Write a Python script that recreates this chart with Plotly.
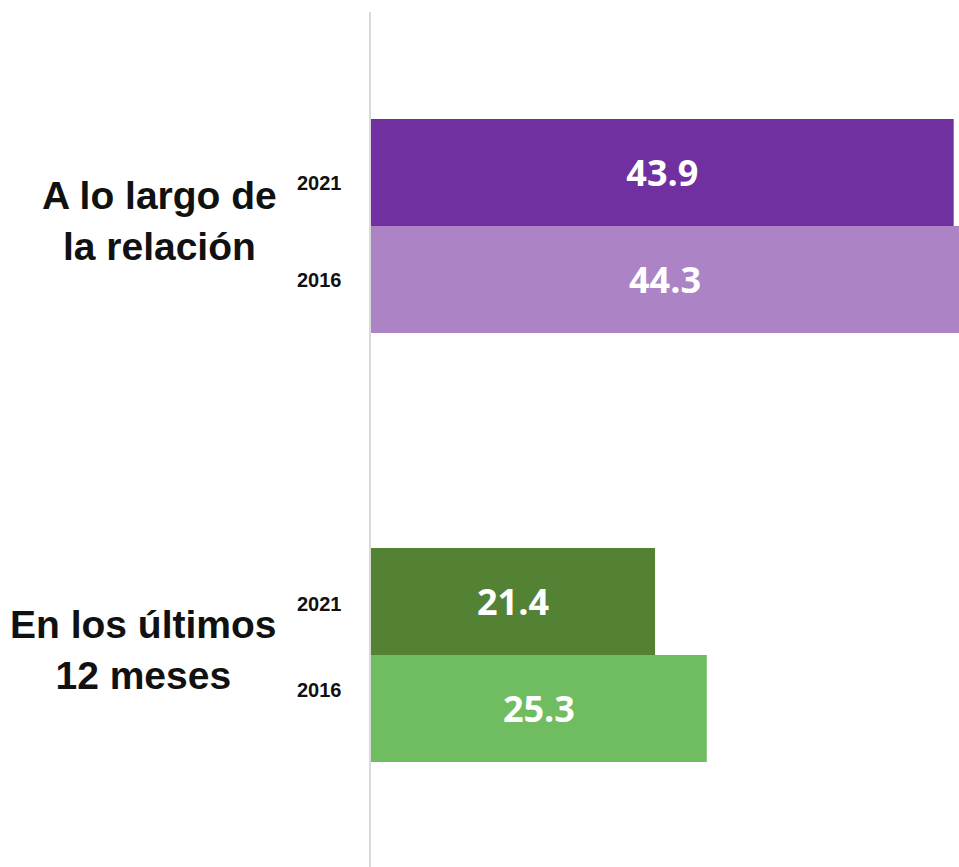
import plotly.graph_objects as go

categories = ["A lo largo de<br>la relación", "En los últimos<br>12 meses"]
years = ["2021", "2016"]
values_2021 = [43.9, 21.4]
values_2016 = [44.3, 25.3]
colors_2021 = ["#7030A0", "#548235"]
colors_2016 = ["#AC84C6", "#70BC60"]

idx = list(range(len(categories)))

fig = go.Figure()
fig.add_trace(go.Bar(
    y=idx, x=values_2021, orientation="h", name=years[0],
    marker=dict(color=colors_2021, line=dict(width=0)),
    text=[f"{v:.1f}" for v in values_2021], textposition="inside",
    insidetextanchor="middle", constraintext="none",
    textfont=dict(family="Open Sans", size=36, color="white", weight="bold"),
))
fig.add_trace(go.Bar(
    y=idx, x=values_2016, orientation="h", name=years[1],
    marker=dict(color=colors_2016, line=dict(width=0)),
    text=[f"{v:.1f}" for v in values_2016], textposition="inside",
    insidetextanchor="middle", constraintext="none",
    textfont=dict(family="Open Sans", size=36, color="white", weight="bold"),
))

annotations = []
for i, cat in enumerate(categories):
    annotations.append(dict(
        x=0, y=i, xref="x", yref="y", text=f"<b>{cat}</b>", showarrow=False,
        xanchor="right", yanchor="middle", align="center", xshift=-92, yshift=5,
        font=dict(family="Liberation Sans", size=39, color="#111111"),
    ))
year_shifts = [(43, -54), (51, -35)]
for i in idx:
    for j, yr in enumerate(years):
        annotations.append(dict(
            x=0, y=i, xref="x", yref="y", text=f"<b>{yr}</b>", showarrow=False,
            xanchor="right", yanchor="middle", xshift=-27,
            yshift=year_shifts[i][j],
            font=dict(family="Liberation Sans", size=20, color="#111111"),
        ))

fig.update_layout(
    width=959, height=867,
    margin=dict(l=371, r=0, t=12, b=0),
    paper_bgcolor="white", plot_bgcolor="white",
    barmode="group", bargap=0.501, bargroupgap=0,
    showlegend=False,
    annotations=annotations,
    xaxis=dict(range=[0, 44.3], visible=False, fixedrange=True),
    yaxis=dict(range=[1.494, -0.499], showticklabels=False, ticks="",
               showgrid=False, zeroline=False, showline=True,
               linecolor="#D9D9D9", linewidth=2, fixedrange=True),
)

fig.write_html("out.html", config={"displayModeBar": False},
               post_script="document.body.style.margin='0';document.body.style.overflow='hidden';")
